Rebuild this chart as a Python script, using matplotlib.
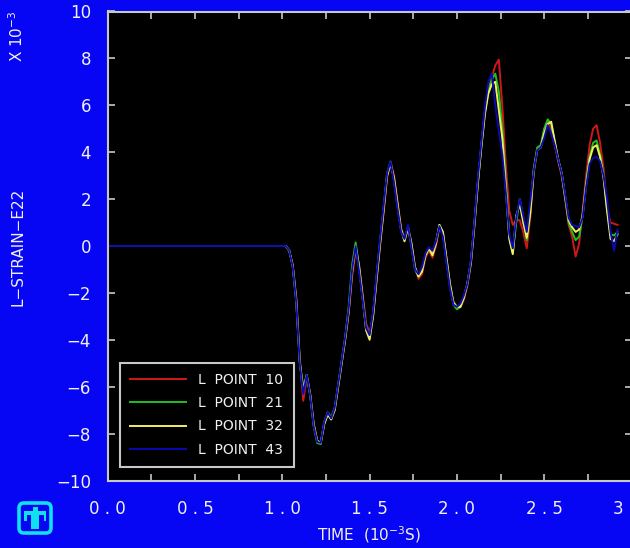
import numpy as np
import matplotlib
matplotlib.use("Agg")
import matplotlib.pyplot as plt
from matplotlib.patches import FancyBboxPatch, Polygon

# ------------------------------------------------------------
# DATA (strain in units of 1e-3)
# ------------------------------------------------------------
# sample times in 1e-3 s: one point at 0, then every 0.02 from 1.00 to 2.92
TIME = np.concatenate([[0.0], np.linspace(1.0, 2.92, 97)])

POINT_10 = [0.0,
            0, 0, -0.2, -0.8, -2.2, -4.8, -6.6, -5.6, -6.3, -7.6,
            -8.3, -8.4, -7.6, -7.1, -7.3, -7.0, -6.0, -5.0, -4.0, -2.9,
            -1.3, -0.2, -0.8, -2.0, -3.3, -3.7, -3.0, -1.5, 0.0, 1.4,
            2.9, 3.6, 3.0, 1.9, 0.8, 0.3, 0.7, 0.1, -0.9, -1.4,
            -1.2, -0.5, -0.2, -0.5, 0.0, 0.8, 0.6, -0.5, -1.6, -2.4,
            -2.6, -2.6, -2.3, -1.7, -0.8, 0.8, 2.6, 4.3, 5.7, 6.7,
            7.2, 7.7, 7.95, 6.0, 3.5, 1.5, 0.9, 1.1, 1.1, 0.6,
            -0.1, 1.2, 3.1, 4.1, 4.2, 5.0, 5.3, 4.9, 4.3, 3.6,
            3.0, 2.0, 0.9, 0.4, -0.45, 0.1, 1.5, 3.0, 4.3, 5.0,
            5.15, 4.4, 3.3, 1.6, 1.0, 0.95, 0.9]

POINT_21 = [0.0,
            0, 0, -0.2, -0.9, -2.4, -5.0, -6.0, -5.5, -6.4, -7.7,
            -8.4, -8.45, -7.5, -7.1, -7.3, -6.9, -5.9, -4.9, -3.9, -2.6,
            -0.8, 0.15, -0.9, -2.2, -3.5, -3.8, -2.9, -1.3, 0.2, 1.6,
            3.1, 3.6, 2.8, 1.7, 0.7, 0.3, 0.8, 0.0, -1.0, -1.3,
            -1.0, -0.4, -0.1, -0.3, 0.2, 0.9, 0.5, -0.6, -1.7, -2.5,
            -2.7, -2.6, -2.2, -1.6, -0.7, 0.9, 2.7, 4.3, 5.7, 6.6,
            7.1, 7.35, 6.6, 5.0, 2.8, 0.4, -0.3, 1.0, 2.0, 1.2,
            0.25, 1.4, 3.3, 4.2, 4.3, 5.0, 5.4, 5.2, 4.4, 3.7,
            3.1, 2.1, 1.0, 0.6, 0.25, 0.4, 1.3, 2.7, 3.8, 4.4,
            4.5, 3.9, 3.0, 1.6, 0.5, 0.45, 0.6]

POINT_32 = [0.0,
            0, 0, -0.2, -0.85, -2.3, -4.9, -6.2, -5.5, -6.35, -7.6,
            -8.3, -8.4, -7.6, -7.2, -7.4, -7.0, -6.0, -5.0, -4.0, -2.8,
            -1.1, 0.0, -0.9, -2.2, -3.6, -4.0, -3.0, -1.4, 0.1, 1.5,
            3.0, 3.5, 2.9, 1.8, 0.7, 0.2, 0.8, 0.1, -0.9, -1.3,
            -1.1, -0.4, -0.1, -0.4, 0.1, 0.9, 0.6, -0.5, -1.6, -2.4,
            -2.6, -2.6, -2.2, -1.6, -0.7, 0.9, 2.7, 4.2, 5.6, 6.5,
            6.9, 7.0, 5.8, 4.6, 2.5, 0.3, -0.35, 1.3, 1.8, 1.0,
            0.35, 1.4, 3.2, 4.1, 4.2, 4.8, 5.2, 5.3, 4.5, 3.7,
            3.1, 2.1, 1.1, 0.8, 0.6, 0.7, 1.3, 2.6, 3.7, 4.2,
            4.3, 3.8, 2.9, 1.5, 0.3, 0.2, 0.5]

POINT_43 = [0.0,
            0, 0, -0.2, -0.9, -2.4, -5.0, -6.3, -5.5, -6.4, -7.7,
            -8.35, -8.4, -7.5, -7.1, -7.35, -6.9, -5.9, -4.9, -3.9, -2.7,
            -1.0, 0.0, -1.1, -2.3, -3.5, -3.8, -2.8, -1.2, 0.3, 1.7,
            3.1, 3.6, 2.7, 1.6, 0.6, 0.3, 0.9, -0.1, -1.0, -1.2,
            -0.9, -0.3, -0.05, -0.2, 0.2, 0.85, 0.4, -0.7, -1.8, -2.5,
            -2.6, -2.45, -2.1, -1.6, -0.6, 1.0, 2.9, 4.4, 5.9, 7.0,
            7.35, 6.0, 4.9, 3.9, 2.3, 0.5, -0.1, 1.2, 2.0, 1.3,
            0.6, 1.9, 3.2, 4.1, 4.2, 4.6, 5.15, 4.8, 4.3, 3.7,
            3.1, 2.2, 1.2, 0.9, 0.85, 0.8, 1.2, 2.5, 3.5, 3.75,
            3.8, 3.6, 3.0, 2.0, 0.6, -0.2, 0.7]

SERIES = [POINT_10, POINT_21, POINT_32, POINT_43]
LABELS = ["L  POINT  10", "L  POINT  21", "L  POINT  32", "L  POINT  43"]
COLORS = ["#d01818", "#20c020", "#f0f060", "#0a0ab0"]

XTICKS = [0.0, 0.5, 1.0, 1.5, 2.0, 2.5, 3.0]
XTICK_LABELS = ["0 . 0", "0 . 5", "1 . 0", "1 . 5", "2 . 0", "2 . 5", "3 . 0"]
YTICKS = [10, 8, 6, 4, 2, 0, -2, -4, -6, -8, -10]
YTICK_LABELS = ["10", "8", "6", "4", "2", "0", "\u22122", "\u22124", "\u22126", "\u22128", "\u221210"]

# ------------------------------------------------------------
# STYLE
# ------------------------------------------------------------
BG = "#0606f4"
FG = "#f0f0f0"
SPINE = "#c8c8c8"
LOGO = "#10e0f0"

W, H = 630, 548
fig = plt.figure(figsize=(W / 100, H / 100), dpi=100, facecolor=BG)

# axes box in pixel coordinates of the reference
left, right, top, bottom = 107.7, 631.5, 11.5, 480.5
ax = fig.add_axes([left / W, 1 - bottom / H, (right - left) / W, (bottom - top) / H])
ax.set_facecolor("black")

for ys, lab, col in zip(SERIES, LABELS, COLORS):
    ax.plot(TIME, ys, color=col, lw=1.4, label=lab)

ax.set_xlim(0, 3.0)
ax.set_ylim(-10, 10)

ax.set_xticks(XTICKS)
ax.set_xticklabels(XTICK_LABELS)
ax.set_xticks(np.arange(0.25, 3.0, 0.5), minor=True)
ax.set_yticks(YTICKS)
ax.set_yticklabels(YTICK_LABELS)

for s in ax.spines.values():
    s.set_color(SPINE)
    s.set_linewidth(1.5)

ax.tick_params(which="both", direction="in", length=5, width=1.2, color=SPINE,
               top=True, right=True, labelcolor=FG, labelsize=12)
ax.tick_params(axis="x", which="major", pad=14)
ax.tick_params(axis="y", which="major", pad=12)

# axis titles
fig.text((left + 523.5 / 2) / W, 1 - 535 / H, r"TIME  (10$^{-3}$S)", color=FG,
         fontsize=11, ha="center", va="center")
fig.text(18 / W, 1 - 246.5 / H, "L\u2212STRAIN\u2212E22", color=FG, fontsize=11,
         rotation=90, ha="center", va="center")
fig.text(17 / W, 1 - 36 / H, r"X 10$^{-3}$", color=FG, fontsize=11,
         rotation=90, ha="center", va="center")

# legend
leg = ax.legend(loc="lower left", bbox_to_anchor=(120 / W, 1 - 467 / H),
                bbox_transform=fig.transFigure, frameon=True, fancybox=False,
                facecolor="black", edgecolor=SPINE, fontsize=10, labelcolor=FG,
                handlelength=4.0, handletextpad=0.9, labelspacing=0.66,
                borderpad=0.75, borderaxespad=0)
leg.get_frame().set_linewidth(1.5)
leg.get_frame().set_alpha(1)

# small logo in the lower left corner
lax = fig.add_axes([15 / W, 1 - 537 / H, 40 / W, 38 / H])
lax.set_xlim(0, 40)
lax.set_ylim(0, 38)
lax.axis("off")
lax.add_patch(FancyBboxPatch((4, 4), 32, 30, boxstyle="round,pad=0,rounding_size=5",
                             fill=False, ec=LOGO, lw=2.6))
bird = [(17.5, 30), (22.5, 30), (22.5, 26), (31, 26), (31, 16), (28.5, 16),
        (28.5, 22), (24, 22), (24, 8), (16, 8), (16, 22), (11.5, 22),
        (11.5, 16), (9, 16), (9, 26), (17.5, 26)]
lax.add_patch(Polygon(bird, closed=True, fc=LOGO, ec="none"))

fig.savefig("out.png", dpi=100, facecolor=fig.get_facecolor())
